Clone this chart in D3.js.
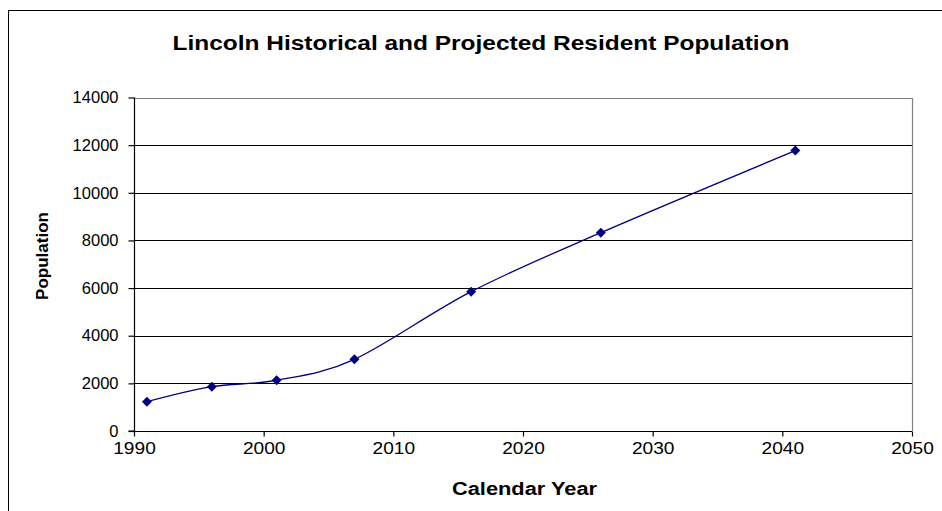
<!DOCTYPE html>
<html><head><meta charset="utf-8">
<script src="https://cdn.jsdelivr.net/npm/d3@7"></script>
<style>html,body{margin:0;padding:0;background:#fff;overflow:hidden}</style>
</head><body>
<svg id="c" width="942" height="511"></svg>
<script>
const years = [1991, 1996, 2001, 2007, 2016, 2026, 2041];
const population = [1230, 1860, 2130, 3010, 5850, 8325, 11770];
const xTicks = [1990, 2000, 2010, 2020, 2030, 2040, 2050];
const yTicks = [0, 2000, 4000, 6000, 8000, 10000, 12000, 14000];
const title = "Lincoln Historical and Projected Resident Population";
const xLabel = "Calendar Year";
const yLabel = "Population";

const svg = d3.select("#c");
const font = "'Liberation Sans', Arial, sans-serif";
const L = 134, R = 912, T = 97.5, B = 431;
const x = d3.scaleLinear().domain([1990, 2050]).range([L, R]);
const y = d3.scaleLinear().domain([0, 14000]).range([B, T]);

// outer border
svg.append("rect").attr("x", 8.5).attr("y", 10.5).attr("width", 1000).attr("height", 1000)
  .attr("fill", "none").attr("stroke", "#000").attr("stroke-width", 1);

// gridlines
svg.append("g").selectAll("line").data(yTicks.filter(d => d > 0 && d < 14000)).join("line")
  .attr("x1", L).attr("x2", R).attr("y1", d => Math.round(y(d)) + 0.5).attr("y2", d => Math.round(y(d)) + 0.5)
  .attr("stroke", "#000").attr("stroke-width", 1);
// plot border top/right grey
svg.append("path").attr("d", `M${L},${Math.round(T)+0.5}H${R+0.5}V${B}`)
  .attr("fill", "none").attr("stroke", "#808080").attr("stroke-width", 1.2);

// axes
const yAxis = d3.axisLeft(y).tickValues(yTicks).tickSize(6).tickPadding(10).tickFormat(d3.format("d"));
const gy = svg.append("g").attr("transform", `translate(${L + 0.5},0)`).call(yAxis);
const xAxis = d3.axisBottom(x).tickValues(xTicks).tickSize(5).tickPadding(6).tickFormat(d3.format("d"));
const gx = svg.append("g").attr("transform", `translate(0,${B + 0.5})`).call(xAxis);
[gx, gy].forEach(g => {
  g.select(".domain").attr("stroke", "#000").attr("stroke-width", 1.2);
  g.selectAll(".tick line").attr("stroke", "#000").attr("stroke-width", 1.2);
  g.selectAll(".tick text").attr("fill", "#000").style("font-family", font);
});
gy.selectAll(".tick text").style("font-size", "16.5px");
gx.selectAll(".tick text").style("font-size", "16.5px").attr("transform", "scale(1.16,1)");
gy.select(".domain").attr("d", `M-6,${B}H0V${T}`);
gx.select(".domain").attr("d", `M${L},0H${R}`);

// line
const data = years.map((d, i) => ({ yr: d, v: population[i] }));
svg.append("path").datum(data)
  .attr("d", d3.line().x(d => x(d.yr)).y(d => y(d.v)).curve(d3.curveCatmullRom.alpha(0)))
  .attr("fill", "none").attr("stroke", "#000080").attr("stroke-width", 1.3);
svg.append("g").selectAll("path").data(data).join("path")
  .attr("transform", d => `translate(${x(d.yr)},${y(d.v)})`)
  .attr("d", "M0,-5L5,0L0,5L-5,0Z").attr("fill", "#000080");

// texts
svg.append("text").attr("x", 172.5).attr("y", 50)
  .attr("textLength", 617).attr("lengthAdjust", "spacingAndGlyphs")
  .style("font-family", font).style("font-weight", "bold").style("font-size", "20px").text(title);
svg.append("text").attr("x", 452).attr("y", 495)
  .attr("textLength", 145).attr("lengthAdjust", "spacingAndGlyphs")
  .style("font-family", font).style("font-weight", "bold").style("font-size", "17.5px").text(xLabel);
svg.append("text").attr("transform", `translate(48,256) rotate(-90)`).attr("text-anchor", "middle")
  .style("font-family", font).style("font-weight", "bold").style("font-size", "17px").text(yLabel);
</script>
</body></html>
